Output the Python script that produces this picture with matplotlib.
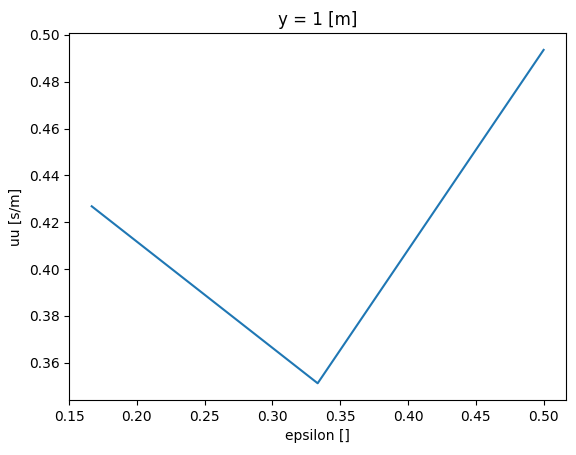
import matplotlib.pyplot as plt

epsilon = [1/6, 1/3, 1/2]
uu = [0.4268, 0.3512, 0.4936]

fig, ax = plt.subplots(figsize=(5.76, 4.55), dpi=100)
ax.plot(epsilon, uu)
ax.set_title('y = 1 [m]')
ax.set_xlabel('epsilon []')
ax.set_ylabel('uu [s/m]')

plt.subplots_adjust(left=0.12, right=0.983, top=0.927, bottom=0.121)
plt.savefig('out.png')
